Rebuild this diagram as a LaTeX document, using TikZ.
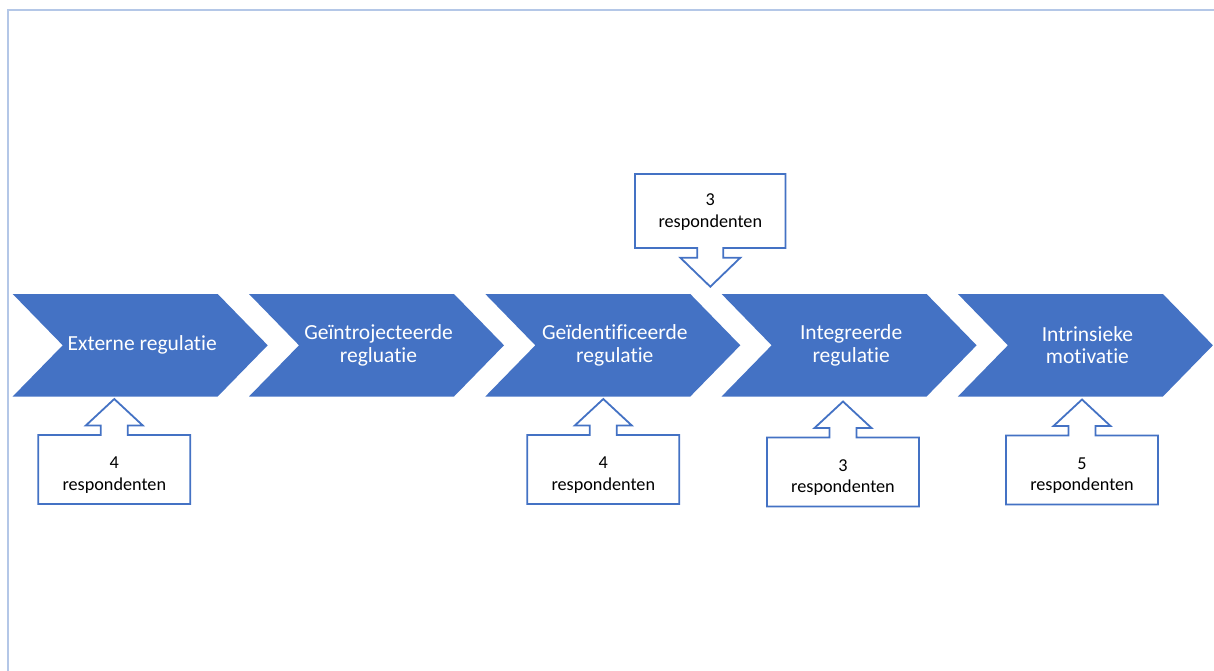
\documentclass[tikz,border=0pt]{standalone}
\usepackage{fontspec}
\setmainfont[Ligatures=NoCommon]{Carlito}
\definecolor{blauw}{HTML}{4472C4}
\definecolor{rand}{HTML}{B4C7E7}
\begin{document}
\begin{tikzpicture}[x=1pt,y=-1pt, line join=miter,
	stap/.style={fill=blauw},
	staptekst/.style={text=white, align=center, inner sep=0pt, font=\fontsize{21.5}{22.6}\selectfont},
	kader/.style={draw=blauw, line width=1.8pt, fill=white},
	kadertekst/.style={align=center, inner sep=0pt, font=\fontsize{18.2}{21.7}\selectfont}]
	\useasboundingbox (0,0) rectangle (1214,671);
	\draw[rand, line width=2pt] (8,671)--(8,9.8)--(1214,9.8);
	% pijlen van de regulatievormen
	\foreach \i/\n/\t in {0/ext/{Externe regulatie}, 1/introj/{Geïntrojecteerde\\regluatie}, 2/ident/{Geïdentificeerde\\regulatie}, 3/integr/{Integreerde\\regulatie}, 4/intr/{Intrinsieke\\motivatie}}{
		\pgfmathsetmacro\L{12.7+236.3*\i}
		\fill[stap] (\L,294)--(\L+205,294)--(\L+255,345.3)--(\L+205,396.5)--(\L,396.5)--(\L+50,345.3)--cycle;
		\node[staptekst] (\n) at (\L+129.5,345.3) {\t};
	}
	% kaders onder de pijlen
	\foreach \n/\x/\y/\t in {k1/114.3/435/4, k3/603.3/435/4, k4/843/437.5/3, k5/1082/435.5/5}{
		\draw[kader] (\x-76,\y)--(\x-13.5,\y)--(\x-13.5,\y-9.5)--(\x-28.5,\y-9.5)--(\x,\y-36)--(\x+28.5,\y-9.5)--(\x+13.5,\y-9.5)--(\x+13.5,\y)--(\x+76,\y)--(\x+76,\y+69)--(\x-76,\y+69)--cycle;
		\node[kadertekst] (\n) at (\x,\y+40) {\t\\respondenten};
	}
	% kader boven
	\draw[kader] (635,174)--(785.5,174)--(785.5,248)--(723.3,248)--(723.3,257.7)--(740.3,257.7)--(710.3,286.7)--(680.3,257.7)--(697.3,257.7)--(697.3,248)--(635,248)--cycle;
	\node[kadertekst] (k2) at (710.3,212) {3\\respondenten};
\end{tikzpicture}
\end{document}
